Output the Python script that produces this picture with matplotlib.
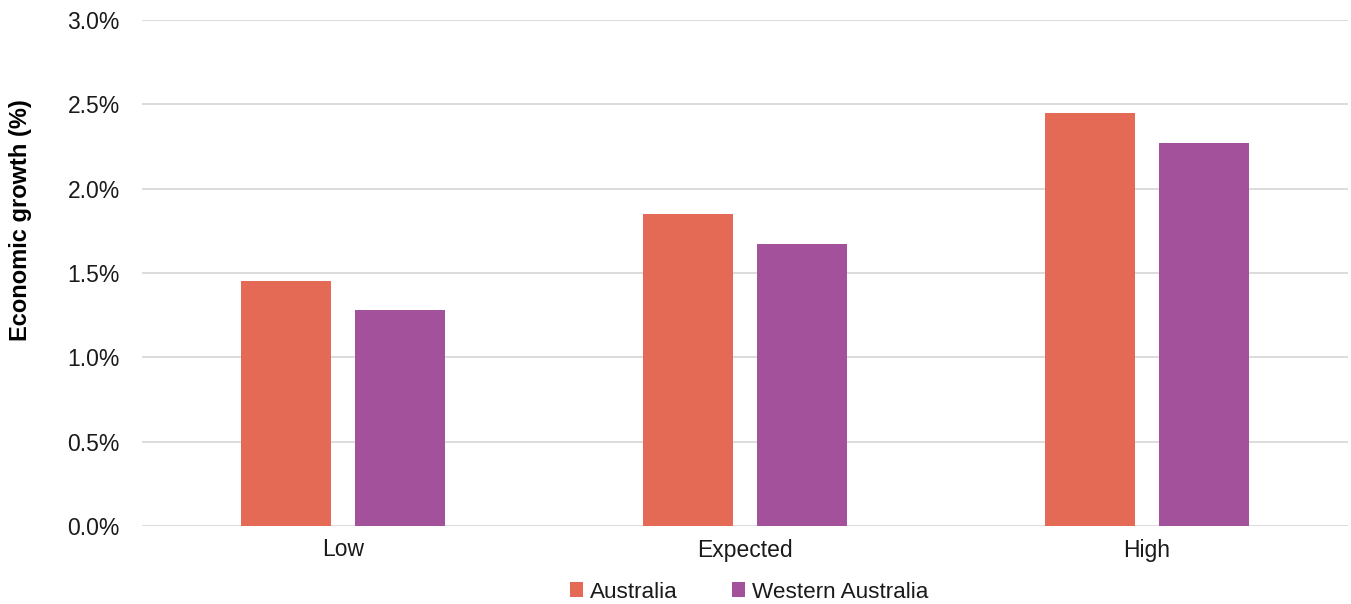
import matplotlib.pyplot as plt
import numpy as np

plt.rcParams['font.family'] = ['Liberation Sans', 'DejaVu Sans']

# Scenario categories and growth values (%)
scenarios = ["Low", "Expected", "High"]
australia = [1.45, 1.85, 2.45]
western_australia = [1.28, 1.67, 2.27]
yticks = [0.0, 0.5, 1.0, 1.5, 2.0, 2.5, 3.0]

col_aus = "#E46A55"
col_wa = "#A3519B"

fig = plt.figure(figsize=(13.51, 6.04), dpi=100)
# axes placed in pixel terms: left 142, right 1348, top 20, bottom 526
ax = fig.add_axes([142/1351, (604-526)/604, (1348-142)/1351, (526-20)/604])

x = np.arange(len(scenarios))
w = 0.224
off = 0.142
ax.bar(x - off, australia, w, color=col_aus, label="Australia", zorder=3)
ax.bar(x + off, western_australia, w, color=col_wa, label="Western Australia", zorder=3)

ax.set_xlim(-0.5, 2.5)
ax.set_ylim(0, 3.0)
ax.set_yticks(yticks)
ax.set_yticklabels([f"{v:.1f}%" for v in yticks], fontsize=16.5)
ax.set_xticks(x)
ax.set_xticklabels(scenarios, fontsize=16.5)
ax.tick_params(axis='both', length=0, colors="#1a1a1a")
ax.tick_params(axis='y', pad=16)
ax.tick_params(axis='x', pad=9)
ax.grid(axis='y', color="#D9D9D9", linewidth=1.3, zorder=0)
for s in ax.spines.values():
    s.set_visible(False)

fig.text(21/1351, 1 - 220/604, "Economic growth (%)", rotation=90,
         ha='center', va='center', fontsize=17, fontweight='bold', color="#000000")

leg = fig.legend(loc='center', bbox_to_anchor=(749/1351, 1 - 592/604), ncol=2,
                 frameon=False, fontsize=16.2, handlelength=0.6, handleheight=0.6,
                 handletextpad=0.3, columnspacing=2.4)
for t in leg.get_texts():
    t.set_color("#1a1a1a")

fig.savefig("out.png", dpi=100)
